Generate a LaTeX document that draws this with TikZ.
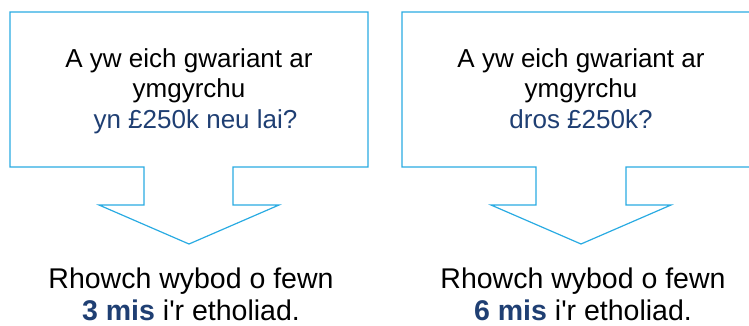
\documentclass[tikz,border=0pt]{standalone}
\usepackage{fontspec}
\setmainfont{Liberation Sans}[Ligatures=TeXOff]
\definecolor{calloutblue}{RGB}{41,171,226}
\definecolor{textblue}{RGB}{31,63,115}

\begin{document}
\begin{tikzpicture}[x=1pt,y=-1pt,
  callout/.style={draw=calloutblue, line width=1.2pt, line join=miter},
  ask/.style={anchor=base, align=center, inner sep=0pt,
    font=\fontsize{26}{30.5}\selectfont},
  answer/.style={anchor=base, align=center, inner sep=0pt,
    font=\fontsize{28.5}{32}\selectfont}]

\useasboundingbox (0,0) rectangle (749,325);
\clip (0,0) rectangle (749,325);

% left callout
\draw[callout] (10,12) -- (368,12) -- (368,167) -- (233,167) -- (233,205) -- (279,205)
  -- (189,244) -- (99,205) -- (144,205) -- (144,167) -- (10,167) -- cycle;
% right callout
\draw[callout] (402,12) -- (760,12) -- (760,167) -- (626,167) -- (626,205) -- (671,205)
  -- (581,244) -- (491,205) -- (536,205) -- (536,167) -- (402,167) -- cycle;

% base anchor sits on the last line
\node[ask] (q1) at (189,128) {A yw eich gwariant ar\\ymgyrchu\\
  \hspace*{13pt}\textcolor{textblue}{yn £250k neu lai?}};
\node[ask] (q2) at (581,128) {A yw eich gwariant ar\\ymgyrchu\\
  \textcolor{textblue}{dros £250k?}};

\node[answer] (a1) at (191,320) {Rhowch wybod o fewn\\
  \textcolor{textblue}{\bfseries 3 mis} i'r etholiad.};
\node[answer] (a2) at (583,320) {Rhowch wybod o fewn\\
  \textcolor{textblue}{\bfseries 6 mis} i'r etholiad.};
\end{tikzpicture}
\end{document}
